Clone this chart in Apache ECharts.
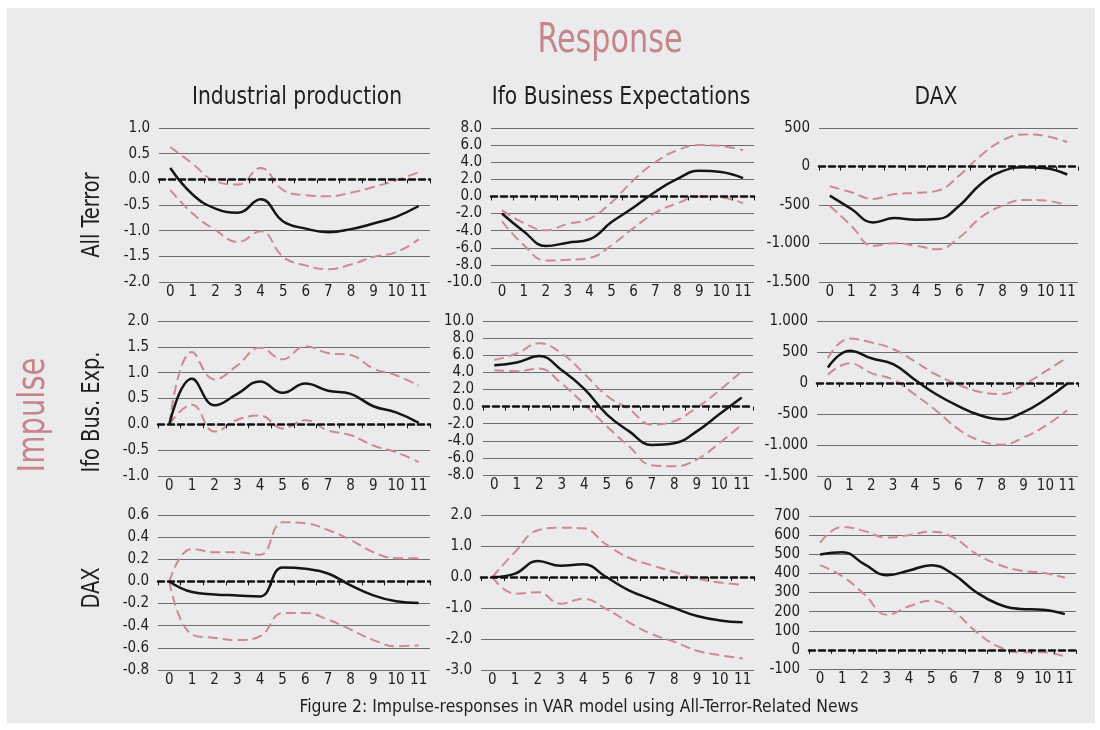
<!DOCTYPE html>
<html>
<head>
<meta charset="utf-8">
<script src="https://cdn.jsdelivr.net/npm/echarts@6/dist/echarts.min.js"></script>
<style>
html,body{margin:0;padding:0;background:#fff;}
#c{width:1100px;height:730px;}
</style>
</head>
<body>
<div id="c"></div>
<script>
// ---------- data ----------
const categories = ['0','1','2','3','4','5','6','7','8','9','10','11'];
const columnTitles = ['Industrial production', 'Ifo Business Expectations', 'DAX'];
const rowTitles = ['All Terror', 'Ifo Bus. Exp.', 'DAX'];

// Impulse: All Terror
const ipTerror    = [0.22, -0.30, -0.57, -0.65, -0.39, -0.82, -0.96, -1.03, -0.97, -0.86, -0.73, -0.52];
const ipTerrorUp  = [0.63, 0.30, -0.04, -0.10, 0.22, -0.21, -0.31, -0.33, -0.26, -0.15, -0.02, 0.14];
const ipTerrorLo  = [-0.21, -0.67, -0.99, -1.22, -1.01, -1.51, -1.68, -1.75, -1.66, -1.51, -1.42, -1.17];

const ifoTerror   = [-2.0, -4.1, -5.8, -5.4, -5.0, -3.0, -1.3, 0.55, 2.05, 3.0, 2.85, 2.15];
const ifoTerrorUp = [-1.6, -3.1, -3.96, -3.2, -2.6, -0.7, 1.9, 4.0, 5.4, 6.0, 5.9, 5.4];
const ifoTerrorLo = [-2.9, -5.7, -7.5, -7.4, -7.2, -5.7, -3.7, -1.9, -0.8, 0.0, -0.1, -0.8];

const daxTerror   = [-378, -552, -726, -670, -691, -683, -509, -226, -61, -9, -22, -104];
const daxTerrorUp = [-257, -335, -422, -357, -343, -313, -117, 143, 339, 417, 396, 317];
const daxTerrorLo = [-509, -770, -1030, -996, -1030, -1074, -922, -661, -509, -435, -443, -509];

// Impulse: Ifo Bus. Exp.
const ipIfo    = [0, 0.88, 0.37, 0.59, 0.83, 0.61, 0.79, 0.65, 0.59, 0.35, 0.23, 0.03];
const ipIfoUp  = [0, 1.40, 0.87, 1.14, 1.48, 1.26, 1.51, 1.38, 1.34, 1.08, 0.95, 0.75];
const ipIfoLo  = [0, 0.38, -0.14, 0.09, 0.17, -0.08, 0.08, -0.12, -0.21, -0.41, -0.54, -0.73];

const ifoIfo   = [4.84, 5.16, 5.9, 4.25, 2.06, -0.91, -2.9, -4.48, -4.29, -2.9, -0.91, 1.07];
const ifoIfoUp = [5.44, 6.2, 7.4, 6.2, 3.85, 1.27, -0.32, -2.1, -1.7, -0.12, 1.87, 4.13];
const ifoIfoLo = [4.25, 4.13, 4.44, 2.66, 0.28, -2.3, -4.68, -6.87, -6.98, -6.19, -4.29, -2.1];

const daxIfo   = [250, 521, 399, 303, 53, -186, -372, -521, -585, -468, -266, -11];
const daxIfoUp = [399, 718, 654, 548, 346, 133, -27, -144, -176, -27, 186, 410];
const daxIfoLo = [133, 319, 160, 53, -186, -452, -745, -931, -995, -878, -691, -441];

// Impulse: DAX
const ipDax    = [0, -0.096, -0.117, -0.126, -0.135, 0.126, 0.114, 0.072, -0.036, -0.126, -0.18, -0.195];
const ipDaxUp  = [0, 0.294, 0.264, 0.264, 0.24, 0.534, 0.525, 0.465, 0.375, 0.264, 0.21, 0.21];
const ipDaxLo  = [0, -0.48, -0.51, -0.53, -0.495, -0.285, -0.285, -0.345, -0.435, -0.53, -0.585, -0.576];

const ifoDax   = [0, 0.11, 0.52, 0.36, 0.41, 0.0, -0.43, -0.72, -1.0, -1.26, -1.4, -1.46];
const ifoDaxUp = [0, 0.81, 1.51, 1.59, 1.57, 1.05, 0.62, 0.38, 0.16, -0.05, -0.18, -0.25];
const ifoDaxLo = [0, -0.54, -0.49, -0.86, -0.7, -1.03, -1.46, -1.84, -2.09, -2.38, -2.52, -2.63];

const daxDax   = [499, 511, 447, 390, 415, 443, 394, 303, 240, 214, 210, 187];
const daxDaxUp = [560, 643, 621, 587, 600, 618, 587, 503, 447, 415, 403, 377];
const daxDaxLo = [443, 385, 289, 184, 228, 257, 201, 96, 18, -12, -12, -35];

// y-axis ranges per panel: [min, max, interval, decimals]
const yRanges = [
  [-2, 1, 0.5, 1], [-10, 8, 2, 1], [-1500, 500, 500, 0],
  [-1, 2, 0.5, 1], [-8, 10, 2, 1], [-1500, 1000, 500, 0],
  [-0.8, 0.6, 0.2, 1], [-3, 2, 1, 1], [-100, 700, 100, 0]
];

const panelSeries = [
  [ipTerror, ipTerrorUp, ipTerrorLo], [ifoTerror, ifoTerrorUp, ifoTerrorLo], [daxTerror, daxTerrorUp, daxTerrorLo],
  [ipIfo, ipIfoUp, ipIfoLo], [ifoIfo, ifoIfoUp, ifoIfoLo], [daxIfo, daxIfoUp, daxIfoLo],
  [ipDax, ipDaxUp, ipDaxLo], [ifoDax, ifoDaxUp, ifoDaxLo], [daxDax, daxDaxUp, daxDaxLo]
];

// ---------- layout ----------
const gridBoxes = [
  [159, 128, 271, 154], [491, 128, 263, 154], [819, 128, 259, 154],
  [158, 321, 272, 155], [483, 321, 270, 154], [817, 321, 261, 155],
  [158, 515, 272, 155], [481, 515, 273, 155], [809, 516, 267, 153]
];

const FONT = "'Liberation Sans Narrow','DejaVu Sans Condensed','Roboto Condensed',sans-serif";
const PINK = '#CF8A8F';
const TEXT = '#1e1e1e';

function fmtNum(v, dec) {
  if (dec > 0) {
    const s = (Math.round(v * 1000) / 1000).toFixed(dec);
    return s === '-0.0' ? '0.0' : s;
  }
  const r = Math.round(v);
  const neg = r < 0;
  let s = String(Math.abs(r)).replace(/\B(?=(\d{3})+(?!\d))/g, '.');
  return (neg ? '-' : '') + s;
}

const grids = [], xAxes = [], yAxes = [], series = [];
for (let i = 0; i < 9; i++) {
  const [l, t, w, h] = gridBoxes[i];
  grids.push({ left: l, top: t, width: w, height: h, containLabel: false });
  const [mn, mx, itv, dec] = yRanges[i];
  const nLines = Math.round((mx - mn) / itv) + 1;
  const zeroIdx = Math.round(-mn / itv);
  const lineColors = [];
  for (let k = 0; k < nLines; k++) lineColors.push(k === zeroIdx ? 'rgba(0,0,0,0)' : '#6e6e6e');
  xAxes.push({
    type: 'category', gridIndex: i, data: categories, boundaryGap: true,
    axisLine: { show: true, onZero: true, lineStyle: { color: '#111', width: 2.5, type: [6, 4] } },
    axisTick: { show: true, length: 4, lineStyle: { color: '#111', width: 1 } },
    axisLabel: { color: TEXT, fontFamily: FONT, fontSize: 15, margin: 3, interval: 0 },
    splitLine: { show: false }, z: 5
  });
  yAxes.push({
    type: 'value', gridIndex: i, min: mn, max: mx, interval: itv,
    axisLine: { show: false }, axisTick: { show: false },
    axisLabel: { color: TEXT, fontFamily: FONT, fontSize: 15, margin: 9, formatter: (v) => fmtNum(v, dec) },
    splitLine: { show: true, lineStyle: { color: lineColors, width: 1.2 } }
  });
  const [mid, up, lo] = panelSeries[i];
  [up, lo].forEach((arr) => {
    series.push({
      type: 'line', xAxisIndex: i, yAxisIndex: i, data: arr, smooth: 0.45,
      symbol: 'none', lineStyle: { color: PINK, width: 2, type: [10, 5] }, z: 3
    });
  });
  series.push({
    type: 'line', xAxisIndex: i, yAxisIndex: i, data: mid, smooth: 0.45,
    symbol: 'none', lineStyle: { color: '#151515', width: 2.5 }, z: 4
  });
}

function txt(text, x, y, size, color, rot, sx) {
  return {
    type: 'text', x: x, y: y, rotation: rot || 0, scaleX: sx || 1, z: 10,
    style: { text: text, font: size + 'px ' + FONT, fill: color, align: 'center', verticalAlign: 'middle' }
  };
}

const graphics = [
  { type: 'rect', shape: { x: 7, y: 8, width: 1088, height: 715 }, style: { fill: '#EBEBED' }, z: -10, silent: true },
  txt('Response', 610, 42, 40, '#C5858A', 0, 0.84),
  txt('Impulse', 34, 415, 38, '#C5858A', Math.PI / 2, 0.85),
  txt(columnTitles[0], 297, 97, 25, TEXT, 0, 0.9),
  txt(columnTitles[1], 621, 97, 25, TEXT, 0, 0.9),
  txt(columnTitles[2], 936, 97, 25, TEXT, 0, 0.9),
  txt(rowTitles[0], 93, 215, 24, TEXT, Math.PI / 2, 0.9),
  txt(rowTitles[1], 93, 412, 24, TEXT, Math.PI / 2, 0.9),
  txt(rowTitles[2], 93, 588, 24, TEXT, Math.PI / 2, 0.9),
  txt('Figure 2: Impulse-responses in VAR model using All-Terror-Related News', 579, 707, 18, TEXT, 0, 0.965)
];

const chart = echarts.init(document.getElementById('c'), null, { renderer: 'canvas' });
chart.setOption({
  backgroundColor: '#ffffff',
  animation: false,
  grid: grids, xAxis: xAxes, yAxis: yAxes, series: series,
  graphic: graphics
});
</script>
</body>
</html>
